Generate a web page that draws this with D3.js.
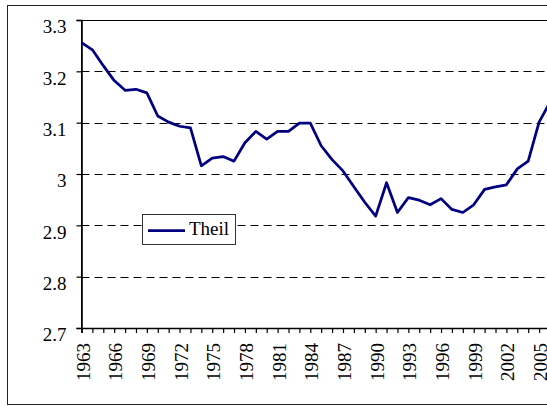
<!DOCTYPE html>
<html>
<head>
<meta charset="utf-8">
<script src="https://cdn.jsdelivr.net/npm/d3@7"></script>
<style>
  html, body { margin: 0; padding: 0; overflow: hidden; background: #fff; }
  svg { display: block; }
</style>
</head>
<body>
<script>
// values
const years = [1963, 1964, 1965, 1966, 1967, 1968, 1969, 1970, 1971, 1972, 1973, 1974, 1975,
  1976, 1977, 1978, 1979, 1980, 1981, 1982, 1983, 1984, 1985, 1986, 1987, 1988, 1989, 1990,
  1991, 1992, 1993, 1994, 1995, 1996, 1997, 1998, 1999, 2000, 2001, 2002, 2003, 2004, 2005, 2006];
const theil = [3.256, 3.242, 3.211, 3.182, 3.163, 3.165, 3.158, 3.113, 3.101, 3.093, 3.090, 3.016, 3.031,
  3.034, 3.025, 3.061, 3.083, 3.068, 3.083, 3.083, 3.099, 3.099, 3.055, 3.028, 3.006, 2.975, 2.945, 2.918,
  2.983, 2.925, 2.954, 2.949, 2.940, 2.952, 2.931, 2.925, 2.940, 2.970, 2.975, 2.979, 3.010, 3.025, 3.101, 3.140];
const yTicks = [2.7, 2.8, 2.9, 3.0, 3.1, 3.2, 3.3];
const xLabelYears = years.filter(y => (y - 1963) % 3 === 0 && y <= 2005);
const seriesName = 'Theil';

const width = 547;
const height = 406;
const serif = '"Liberation Serif", "Times New Roman", serif';

const svg = d3.select('body').append('svg')
    .attr('width', width)
    .attr('height', height);

// outer chart frame (runs off the right edge)
svg.append('rect')
    .attr('x', 7.5).attr('y', 5.5)
    .attr('width', 700).attr('height', 399)
    .attr('fill', '#fff')
    .attr('stroke', '#222')
    .attr('stroke-width', 1);

const x = d3.scaleLinear().domain([1963, 2007]).range([81.5, 81.5 + 44 * 10.895]);
const y = d3.scaleLinear().domain([2.7, 3.3]).range([328, 20]);

// plot area border
svg.append('rect')
    .attr('x', x(1963)).attr('y', y(3.3) + 0.5)
    .attr('width', 700).attr('height', y(2.7) - y(3.3))
    .attr('fill', 'none')
    .attr('stroke', '#000')
    .attr('stroke-width', 1);

// dashed grid
svg.append('g')
  .selectAll('line')
  .data(yTicks.filter(d => d > 2.7 && d < 3.3))
  .enter().append('line')
    .attr('x1', x(1963)).attr('x2', width)
    .attr('y1', d => Math.round(y(d)) + 0.5)
    .attr('y2', d => Math.round(y(d)) + 0.5)
    .attr('stroke', '#000')
    .attr('stroke-width', 1)
    .attr('stroke-dasharray', '8,5');

// y axis
const yAxis = svg.append('g')
    .attr('transform', 'translate(' + x(1963) + ',0)')
    .call(d3.axisLeft(y).tickValues(yTicks).tickSize(5).tickPadding(10)
      .tickFormat(d => d3.format('')(+d.toFixed(1))));
yAxis.select('.domain').attr('stroke-width', 1.6);
yAxis.selectAll('.tick line').attr('stroke-width', 1.2);
yAxis.selectAll('text')
    .attr('dy', '0.68em')
    .style('font-family', serif)
    .style('font-size', '19px')
    .attr('fill', '#000');

// x axis
const xAxis = svg.append('g')
    .attr('transform', 'translate(0,' + y(2.7) + ')')
    .call(d3.axisBottom(x).tickValues(years.concat([2007])).tickSize(5).tickFormat(''));
xAxis.select('.domain').attr('stroke-width', 1.6);
xAxis.selectAll('.tick line').attr('stroke-width', 1.2);

svg.append('g')
  .selectAll('text')
  .data(xLabelYears)
  .enter().append('text')
    .attr('transform', d => 'translate(' + (x(d) + 8) + ',343) rotate(-90)')
    .attr('text-anchor', 'end')
    .style('font-family', serif)
    .style('font-size', '19px')
    .attr('fill', '#000')
    .text(d => d);

// series line
const line = d3.line()
    .x((d, i) => x(years[i]))
    .y(d => y(d));

svg.append('path')
    .datum(theil)
    .attr('d', line)
    .attr('fill', 'none')
    .attr('stroke', '#000080')
    .attr('stroke-width', 2.75)
    .attr('stroke-linejoin', 'round');

// legend
const legend = svg.append('g');
legend.append('rect')
    .attr('x', 142.5).attr('y', 214.5)
    .attr('width', 93).attr('height', 30)
    .attr('fill', '#fff')
    .attr('stroke', '#333')
    .attr('stroke-width', 1);
legend.append('line')
    .attr('x1', 148).attr('x2', 185)
    .attr('y1', 230.5).attr('y2', 230.5)
    .attr('stroke', '#000080')
    .attr('stroke-width', 2.75);
legend.append('text')
    .attr('x', 189).attr('y', 234.5)
    .style('font-family', serif)
    .style('font-size', '19px')
    .attr('fill', '#000')
    .text(seriesName);
</script>
</body>
</html>
